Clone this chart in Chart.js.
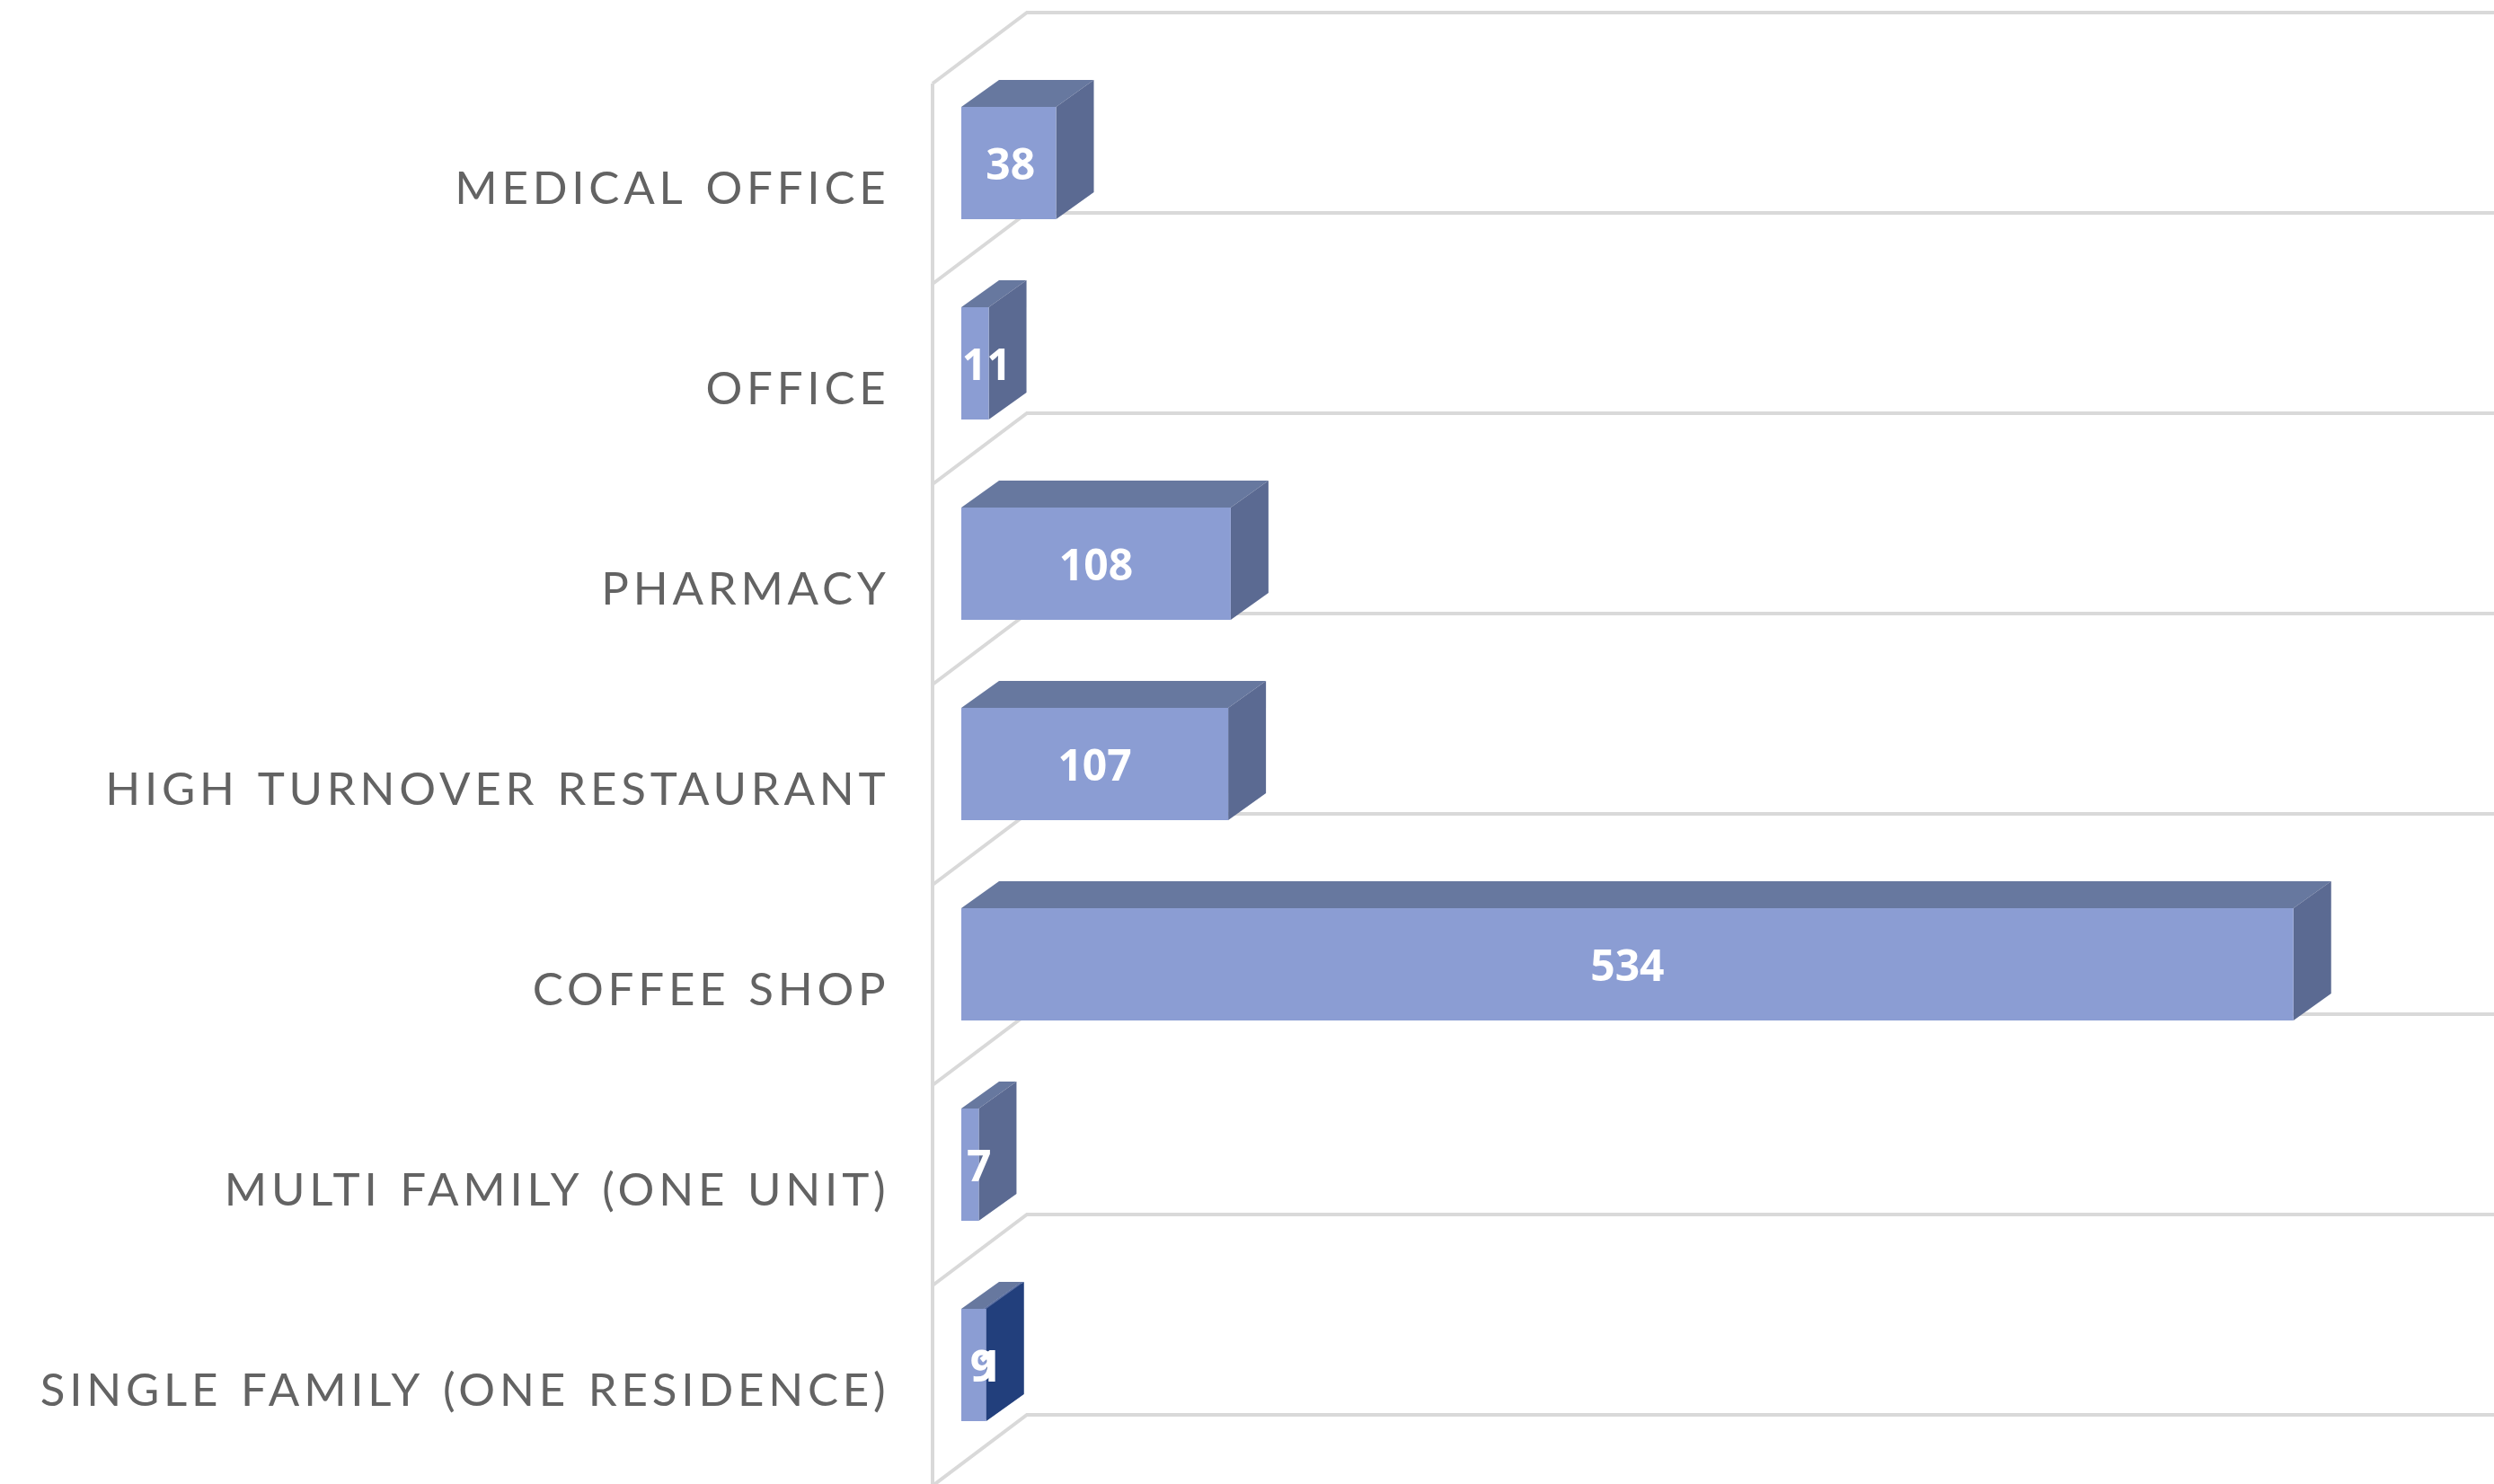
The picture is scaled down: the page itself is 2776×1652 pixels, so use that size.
<!DOCTYPE html>
<html>
<head>
<meta charset="utf-8">
<style>html,body{margin:0;padding:0;background:#fff}#wrap{width:2776px;height:1652px}canvas{display:block}</style>
<script src="https://cdn.jsdelivr.net/npm/chart.js@4/dist/chart.umd.min.js"></script>
</head>
<body>
<div id="wrap"><canvas id="c" width="2776" height="1652"></canvas></div>
<script>
const categories = ['MEDICAL OFFICE','OFFICE','PHARMACY','HIGH TURNOVER RESTAURANT','COFFEE SHOP','MULTI FAMILY (ONE UNIT)','SINGLE FAMILY (ONE RESIDENCE)'];
const seriesA = [38,11,108,107,534,7,9];
const seriesB = [null,null,null,null,null,null,1];
const shiftA = [2,13,0,0,0,10,11];
const shiftB = [0,0,0,0,0,0,5];
const faces = [
  {front:'#8b9dd3', top:'#67789f', side:'#5b6a92'},
  {front:'#8b9dd3', top:'#5a6fa3', side:'#223f7c'}
];
const GRID='#d9d9d9';

const threeD = {
  id:'threeD',
  beforeDraw(chart){ chart.ctx.letterSpacing='4.8px'; chart.ctx.wordSpacing='3px'; },
  beforeDatasetsDraw(chart){
    const {ctx,scales:{x,y}}=chart;
    ctx.letterSpacing='0px'; ctx.wordSpacing='0px';
    const x0=x.getPixelForValue(0);
    const fx=x0-32, bx=fx+105, dy=79, W=chart.width;
    ctx.save();
    ctx.strokeStyle=GRID; ctx.lineWidth=4; ctx.lineJoin='miter';
    for(let k=0;k<=categories.length;k++){
      const fy=y.getPixelForValue(k-0.5)+23;
      ctx.beginPath();
      ctx.moveTo(fx,fy); ctx.lineTo(bx,fy-dy); ctx.lineTo(W,fy-dy);
      ctx.stroke();
    }
    const top=y.getPixelForValue(-0.5)+23;
    ctx.beginPath(); ctx.moveTo(fx,top); ctx.lineTo(fx,chart.height); ctx.stroke();
    const ddx=42, ddy=30;
    chart.data.datasets.forEach((ds,i)=>{
      const col=faces[i];
      chart.getDatasetMeta(i).data.forEach((el,j)=>{
        if(ds.data[j]==null) return;
        const t=el.y-el.height/2, b=el.y+el.height/2, l=el.base, r=el.x;
        ctx.fillStyle=col.top;
        ctx.beginPath(); ctx.moveTo(l,t); ctx.lineTo(l+ddx,t-ddy); ctx.lineTo(r+ddx,t-ddy); ctx.lineTo(r,t); ctx.closePath(); ctx.fill();
        ctx.fillStyle=col.side;
        ctx.beginPath(); ctx.moveTo(r,t); ctx.lineTo(r+ddx,t-ddy); ctx.lineTo(r+ddx,b-ddy); ctx.lineTo(r,b); ctx.closePath(); ctx.fill();
      });
    });
    ctx.restore();
  },
  afterDatasetsDraw(chart){
    const {ctx}=chart;
    ctx.save();
    ctx.fillStyle='#ffffff';
    ctx.font='700 48px "Open Sans"';
    ctx.textAlign='center'; ctx.textBaseline='middle';
    chart.data.datasets.forEach((ds,i)=>{
      const sh=i===0?shiftA:shiftB;
      chart.getDatasetMeta(i).data.forEach((el,j)=>{
        if(ds.data[j]==null) return;
        ctx.fillText(String(ds.data[j]),(el.x+el.base)/2+sh[j],el.y+5);
      });
    });
    ctx.restore();
  }
};

new Chart(document.getElementById('c'),{
  type:'bar',
  plugins:[threeD],
  data:{labels:categories,datasets:[
    {label:'Count',data:seriesA,backgroundColor:faces[0].front,barPercentage:0.5605,categoryPercentage:1},
    {label:'Other',data:seriesB,backgroundColor:faces[1].front,barPercentage:0.5605,categoryPercentage:1}
  ]},
  options:{
    indexAxis:'y',responsive:false,animation:false,
    layout:{padding:{top:70,bottom:21,right:40,left:0}},
    plugins:{legend:{display:false},title:{display:false},tooltip:{enabled:false}},
    scales:{
      x:{stacked:true,display:false,min:0,max:600},
      y:{stacked:true,
        grid:{display:false,drawTicks:false},border:{display:false},
        afterFit(s){s.width=1070;s.paddingTop=0;s.paddingBottom=0;},
        ticks:{autoSkip:false,maxRotation:0,minRotation:0,padding:79.5,labelOffset:29,color:'#636363',
          font:{family:'Lato',size:51,weight:'400'}}
      }
    }
  }
});
</script>
</body>
</html>
